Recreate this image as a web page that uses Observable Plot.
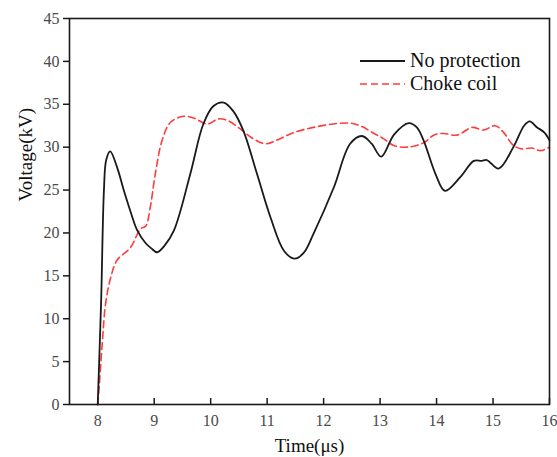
<!DOCTYPE html>
<html>
<head>
<meta charset="utf-8">
<script src="https://cdn.jsdelivr.net/npm/d3@7"></script>
<script src="https://cdn.jsdelivr.net/npm/@observablehq/plot@0.6"></script>
<style>
  html, body { margin: 0; padding: 0; background: #fff; }
  svg { display: block; }
  svg text { font-family: 'Liberation Serif', 'Times New Roman', serif !important; }
</style>
</head>
<body>
<div id="chart"></div>
<script>
const seriesNames = ["No protection", "Choke coil"];
const noProtTime = [8.0, 8.06, 8.11, 8.15, 8.22, 8.35, 8.46, 8.58, 8.70, 8.85, 8.95, 9.05, 9.18, 9.35, 9.64, 9.87, 10.05, 10.23, 10.40, 10.58, 10.82, 11.06, 11.30, 11.49, 11.65, 11.82, 12.18, 12.47, 12.68, 12.85, 13.02, 13.25, 13.51, 13.65, 13.77, 13.98, 14.15, 14.42, 14.66, 14.80, 14.89, 15.10, 15.36, 15.55, 15.65, 15.78, 15.91, 16.0];
const noProtVolt = [0, 12, 25, 28.5, 29.5, 27.5, 25, 22.5, 20.3, 18.8, 18.2, 17.75, 18.5, 20.3, 26.9, 32.7, 34.8, 35.2, 34.2, 31.9, 26.9, 21.8, 17.9, 17.0, 17.7, 19.9, 25.3, 30.4, 31.3, 30.4, 28.9, 31.5, 32.8, 32.3, 30.8, 26.9, 24.9, 26.5, 28.4, 28.4, 28.5, 27.5, 30.0, 32.5, 33.0, 32.3, 31.7, 30.8];
const chokeTime = [8.0, 8.02, 8.08, 8.14, 8.23, 8.34, 8.58, 8.76, 8.85, 8.93, 9.02, 9.14, 9.29, 9.52, 9.70, 9.94, 10.14, 10.30, 10.53, 10.75, 10.97, 11.20, 11.47, 12.06, 12.47, 12.68, 12.89, 13.06, 13.24, 13.48, 13.77, 13.95, 14.12, 14.36, 14.63, 14.83, 15.04, 15.19, 15.36, 15.51, 15.69, 15.84, 16.0];
const chokeVolt = [0, 1.6, 7.1, 11.8, 14.8, 16.8, 18.3, 20.5, 20.8, 23.0, 26.9, 30.8, 32.9, 33.6, 33.4, 32.7, 33.3, 33.1, 32.1, 31.0, 30.4, 30.9, 31.7, 32.6, 32.8, 32.4, 31.6, 31.0, 30.2, 30.0, 30.5, 31.4, 31.6, 31.4, 32.3, 32.0, 32.5, 31.7, 30.2, 29.8, 29.9, 29.6, 30.0];
const xTicks = [8, 9, 10, 11, 12, 13, 14, 15, 16];
const yTicks = [0, 5, 10, 15, 20, 25, 30, 35, 40, 45];
const xLabel = "Time(μs)";
const yLabel = "Voltage(kV)";

const noProt = noProtTime.map((t, i) => ({t, v: noProtVolt[i]}));
const choke = chokeTime.map((t, i) => ({t, v: chokeVolt[i]}));

const font = "'Liberation Serif', 'Times New Roman', serif";
const black = "#1a1a1a";
const red = "#ff3c3c";

const plot = Plot.plot({
  width: 557,
  height: 457,
  marginLeft: 69,
  marginRight: 8,
  marginTop: 18,
  marginBottom: 53,
  style: {fontFamily: font, background: "#fff"},
  x: {domain: [7.5, 16]},
  y: {domain: [0, 45]},
  marks: [
    Plot.axisY({ticks: yTicks, tickSize: 6, tickPadding: 4, fontSize: 16, fontFamily: font, label: null, color: "#4a4a4a", stroke: black, strokeWidth: 1.5}),
    Plot.axisX({ticks: xTicks, tickSize: 0, tickPadding: 10, fontSize: 16, fontFamily: font, label: null, color: "#4a4a4a"}),
    Plot.ruleX(xTicks, {x: d => d, y1: 0, y2: 0, insetTop: -6, stroke: black, strokeWidth: 1.5}),
    Plot.line(choke, {x: "t", y: "v", curve: "catmull-rom", stroke: red, strokeWidth: 1.6, strokeDasharray: "7,4"}),
    Plot.line(noProt, {x: "t", y: "v", curve: "catmull-rom", stroke: black, strokeWidth: 1.8}),
    Plot.frame({stroke: black, strokeWidth: 1.6}),
    Plot.text([xLabel], {frameAnchor: "bottom", dy: 47, fontSize: 19, fill: "#111", fontFamily: font}),
    Plot.text([yLabel], {frameAnchor: "left", rotate: -90, dx: -44, dy: -10, fontSize: 19, fill: "#111", fontFamily: font})
  ]
});
plot.setAttribute("font-family", font);

const svg = d3.select(plot);
const leg = svg.append("g").attr("font-family", font).attr("font-size", 20).attr("fill", "#111").attr("text-anchor", "start");
const items = [
  {name: seriesNames[0], y: 61, stroke: black, dash: null, w: 1.8},
  {name: seriesNames[1], y: 84, stroke: red, dash: "7,4", w: 1.6}
];
items.forEach(it => {
  leg.append("line").attr("x1", 360).attr("x2", 405).attr("y1", it.y).attr("y2", it.y)
    .attr("stroke", it.stroke).attr("stroke-width", it.w).attr("stroke-dasharray", it.dash);
  leg.append("text").attr("x", 410).attr("y", it.y).attr("dy", "0.32em").attr("text-anchor", "start").text(it.name);
});
svg.selectAll("text").style("font-family", font);

document.getElementById("chart").appendChild(plot);
</script>
</body>
</html>
